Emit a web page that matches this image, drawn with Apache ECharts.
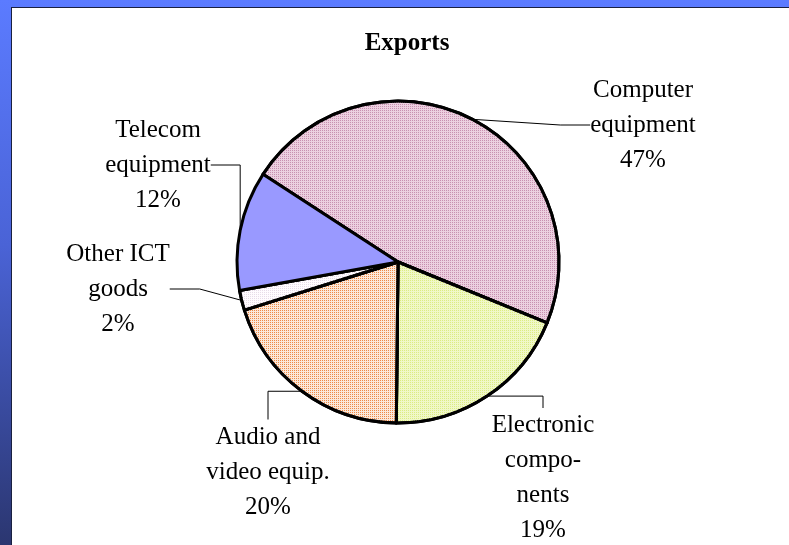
<!DOCTYPE html>
<html>
<head>
<meta charset="utf-8">
<script src="https://cdn.jsdelivr.net/npm/echarts@6/dist/echarts.min.js"></script>
<style>
  html, body { margin: 0; padding: 0; }
  body {
    width: 789px; height: 545px; overflow: hidden; position: relative;
    background: linear-gradient(to bottom, #5b7bff 0%, #4a63d6 45%, #2b3670 100%);
  }
  .panel {
    position: absolute; left: 11px; top: 7px; right: 0; bottom: 0;
    background: #fff; border-left: 1px solid #1a2040; border-top: 1px solid #1a2040;
  }
  #chart { width: 777px; height: 537px; }
</style>
</head>
<body>
<div class="panel"><div id="chart"></div></div>
<script>
// slices in clockwise order, starting from the top-left boundary
const categories = ['Computer\nequipment', 'Electronic\ncompo-\nnents', 'Audio and\nvideo equip.', 'Other ICT\ngoods', 'Telecom\nequipment']
const shares = [47, 19, 20, 2, 12]
const colors = ['#ecd0e0', '#f0f8c8', '#fbe8da', '#fffcff', '#9999ff']
// fine dot texture on top of the fill (null = plain)
const dotColors = ['#c890b0', '#dcec84', '#ee8a48', '#e8dce8', null]
// where each label block sits (centre, px inside the chart)
const labelSpots = [[631, 117], [531, 470], [256, 464], [106, 281], [146, 157]]

const myChart = echarts.init(document.getElementById('chart'))

function sliceStyle(i) {
  const st = { color: colors[i] }
  if (dotColors[i]) {
    st.decal = {
      symbol: 'rect',
      symbolSize: 1,
      color: dotColors[i],
      dashArrayX: [1, 1],
      dashArrayY: [1, 1]
    }
  }
  return st
}

const option = {
  backgroundColor: '#fff',
  title: {
    text: 'Exports',
    left: 390,
    textAlign: 'center',
    top: 18,
    textStyle: { fontFamily: 'Liberation Serif', fontWeight: 'bold', fontSize: 25, color: '#000' }
  },
  series: [
    {
      type: 'pie',
      center: [386, 254],
      radius: 161,
      startAngle: 147,
      clockwise: true,
      percentPrecision: 0,
      data: categories.map((name, i) => ({
        name,
        value: shares[i],
        itemStyle: sliceStyle(i)
      })),
      itemStyle: { borderColor: '#000', borderWidth: 3 },
      label: {
        show: true,
        formatter: (p) => p.name + '\n' + p.percent + '%',
        fontFamily: 'Liberation Serif',
        fontSize: 25,
        lineHeight: 35,
        color: '#000',
        align: 'center'
      },
      labelLine: {
        show: true,
        length: 15,
        length2: 30,
        lineStyle: { color: '#000', width: 1 }
      },
      labelLayout: (params) => {
        const s = labelSpots[params.dataIndex]
        return { x: s[0], y: s[1], align: 'center', verticalAlign: 'middle' }
      },
      emphasis: { disabled: true },
      animation: false
    }
  ]
}

myChart.setOption(option)
</script>
</body>
</html>
